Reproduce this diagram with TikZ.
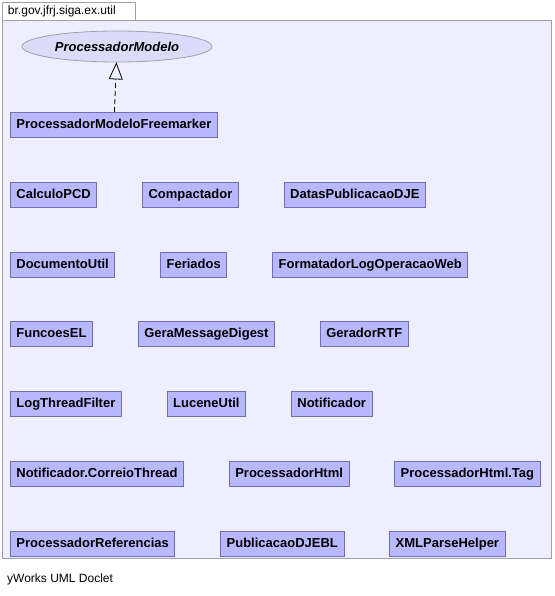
\documentclass[tikz,border=0pt]{standalone}
\usepackage{fontspec}
\setmainfont{Liberation Sans}
\usetikzlibrary{arrows.meta, positioning, shapes.geometric}

\definecolor{pkgfill}{RGB}{238,238,255}
\definecolor{pkgline}{RGB}{160,160,170}
\definecolor{classfill}{RGB}{184,184,255}
\definecolor{classline}{RGB}{112,112,176}
\definecolor{ifacefill}{RGB}{220,220,250}

\begin{document}
\begin{tikzpicture}[x=1pt, y=-1pt,
    classbox/.style={rectangle, draw=classline, fill=classfill, line width=0.8pt,
      minimum height=25pt, inner xsep=6pt, inner ysep=0pt, text height=9.5pt, text depth=2.5pt,
      anchor=north west, font=\fontsize{13}{15}\selectfont\bfseries},
    ifacebox/.style={ellipse, draw=pkgline, fill=ifacefill, line width=0.8pt,
      minimum width=190pt, minimum height=31pt,
      font=\fontsize{13}{15}\selectfont\bfseries\itshape},
    pkgbox/.style={rectangle, draw=pkgline, fill=pkgfill, line width=0.8pt},
    realizes/.style={dash pattern=on 5pt off 3pt, line width=0.8pt,
      -{Triangle[open, length=17pt, width=14pt]}}
  ]
    \useasboundingbox (0,0) rectangle (554,596);

    % package frame and tab
    \node[pkgbox, anchor=north west, minimum width=549pt, minimum height=538pt] (pkg) at (2,20) {};
    \node[pkgbox, anchor=north west, minimum width=133pt, minimum height=18pt, inner sep=0pt,
      fill=white, font=\fontsize{12}{14}\selectfont] (tab) at (2,2)
      {\hspace*{-14pt}br.gov.jfrj.siga.ex.util};

    \node[ifacebox] (procmod) at (117,46.5) {ProcessadorModelo};
    \node[classbox] (procfm) at (10,112) {ProcessadorModeloFreemarker};
    \draw[realizes] (procfm) -- (procmod);

    \node[classbox, below=44pt of procfm.south west, anchor=north west] (calc) {CalculoPCD};
    \node[classbox, right=45pt of calc.north east, anchor=north west] (compact) {Compactador};
    \node[classbox, right=45pt of compact.north east, anchor=north west] (datas) {DatasPublicacaoDJE};

    \node[classbox, below=44pt of calc.south west, anchor=north west] (docutil) {DocumentoUtil};
    \node[classbox, right=45pt of docutil.north east, anchor=north west] (feriados) {Feriados};
    \node[classbox, right=45pt of feriados.north east, anchor=north west] (formlog) {FormatadorLogOperacaoWeb};

    \node[classbox, below=44pt of docutil.south west, anchor=north west] (funcel) {FuncoesEL};
    \node[classbox, right=45pt of funcel.north east, anchor=north west] (gerams) {GeraMessageDigest};
    \node[classbox, right=45pt of gerams.north east, anchor=north west] (gerrtf) {GeradorRTF};

    \node[classbox, below=44pt of funcel.south west, anchor=north west] (logthr) {LogThreadFilter};
    \node[classbox, right=45pt of logthr.north east, anchor=north west] (lucene) {LuceneUtil};
    \node[classbox, right=45pt of lucene.north east, anchor=north west] (notif) {Notificador};

    \node[classbox, below=44pt of logthr.south west, anchor=north west] (notifct) {Notificador.CorreioThread};
    \node[classbox, right=45pt of notifct.north east, anchor=north west] (prochtml) {ProcessadorHtml};
    \node[classbox, right=45pt of prochtml.north east, anchor=north west] (prochtag) {ProcessadorHtml.Tag};

    \node[classbox, below=44pt of notifct.south west, anchor=north west] (procref) {ProcessadorReferencias};
    \node[classbox, right=45pt of procref.north east, anchor=north west] (pubdje) {PublicacaoDJEBL};
    \node[classbox, right=45pt of pubdje.north east, anchor=north west] (xmlph) {XMLParseHelper};

    \node[anchor=west, inner sep=0pt, font=\fontsize{12}{14}\selectfont] (doclet) at (7,579) {yWorks UML Doclet};
  \end{tikzpicture}
\end{document}
